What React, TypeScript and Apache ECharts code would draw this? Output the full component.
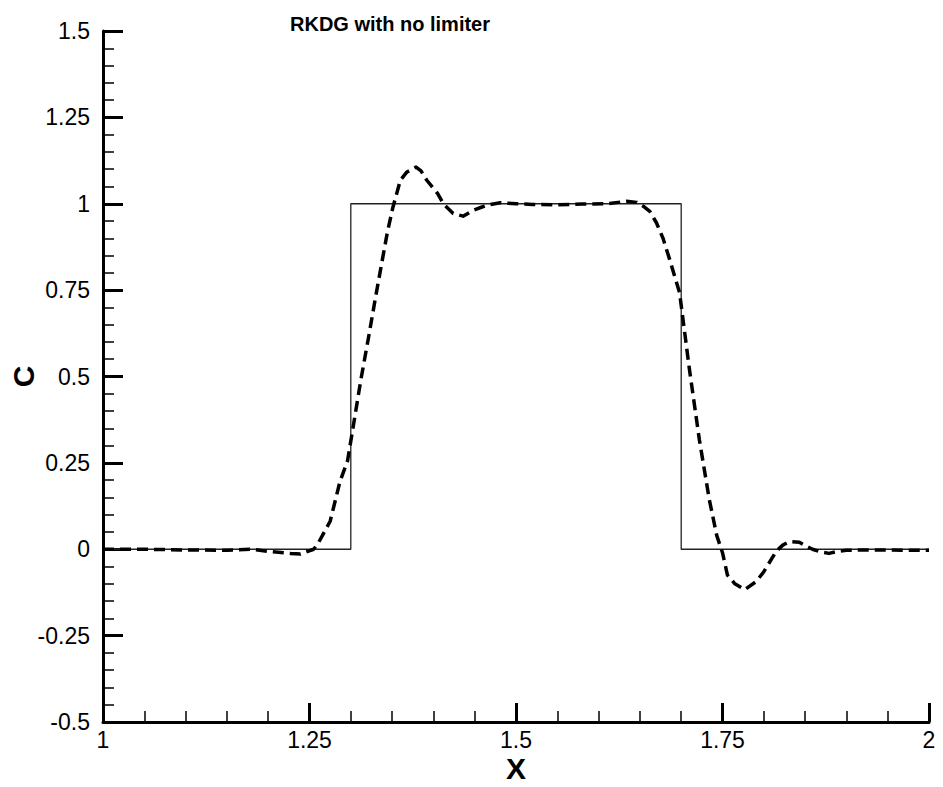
import React, { useEffect, useRef } from "react";
import * as echarts from "echarts";

const exactX = [1.0, 1.3, 1.3, 1.7, 1.7, 2.0];
const exactY = [0, 0, 1, 1, 0, 0];

const numX = [
  1.0, 1.05, 1.1, 1.15, 1.18, 1.2, 1.227, 1.239, 1.255, 1.26, 1.275, 1.287,
  1.296, 1.306, 1.312, 1.322, 1.33, 1.344, 1.351, 1.36, 1.368, 1.376, 1.379,
  1.385, 1.392, 1.405, 1.412, 1.424, 1.436, 1.448, 1.465, 1.481, 1.5, 1.52,
  1.55, 1.58, 1.61, 1.634, 1.646, 1.654, 1.662, 1.67, 1.678, 1.686, 1.698,
  1.71, 1.722, 1.734, 1.743, 1.75, 1.756, 1.765, 1.777, 1.791, 1.8, 1.815,
  1.823, 1.831, 1.843, 1.852, 1.859, 1.869, 1.879, 1.89, 1.9, 1.92, 1.95,
  1.975, 2.0,
];
const numY = [
  0.0, 0.0, -0.002, -0.003, 0.0, -0.006, -0.012, -0.014, 0.0, 0.015, 0.081,
  0.197, 0.255, 0.4, 0.488, 0.62, 0.73, 0.914, 0.99, 1.068, 1.092, 1.102,
  1.106, 1.095, 1.068, 1.03, 1.0, 0.972, 0.964, 0.981, 0.996, 1.003, 1.0,
  0.998, 0.997, 0.999, 1.0, 1.007, 1.004, 0.993, 0.978, 0.945, 0.9, 0.839,
  0.743, 0.52, 0.317, 0.144, 0.04, -0.01, -0.075, -0.1, -0.117, -0.093,
  -0.065, -0.006, 0.012, 0.022, 0.02, 0.008, 0.0, -0.008, -0.012, -0.006,
  -0.003, -0.002, -0.002, -0.003, -0.003,
];

const xTicks = [1, 1.25, 1.5, 1.75, 2];
const yTicks = [-0.5, -0.25, 0, 0.25, 0.5, 0.75, 1, 1.25, 1.5];

const FONT = "'Liberation Sans', Arial, Helvetica, sans-serif";
const NARROW = "'Liberation Sans Narrow', 'Liberation Sans', Arial, sans-serif";

export default function App() {
  const ref = useRef<HTMLDivElement>(null);
  useEffect(() => {
    if (!ref.current) return;
    const chart = echarts.init(ref.current, undefined, { renderer: "svg" });
    const fmt = (v: number) => String(Math.round(v * 100) / 100);
    chart.setOption({
      animation: false,
      backgroundColor: "#ffffff",
      title: {
        text: "RKDG with no limiter",
        left: 385,
        top: 9,
        textAlign: "center",
        textStyle: { fontFamily: FONT, fontSize: 20, fontWeight: "bold", color: "#000" },
      },
      grid: {
        left: 103,
        right: 14,
        top: 31,
        bottom: 65,
        containLabel: false,
        outerBoundsMode: "none",
      },
      xAxis: {
        type: "value",
        min: xTicks[0],
        max: xTicks[xTicks.length - 1],
        interval: 0.25,
        name: "X",
        nameLocation: "middle",
        nameGap: 31,
        nameMoveOverlap: false,
        nameTextStyle: {
          fontFamily: NARROW,
          fontSize: 30,
          lineHeight: 30,
          fontWeight: "bold",
          color: "#000",
        },
        axisLine: { show: true, onZero: false, lineStyle: { color: "#000", width: 3 } },
        axisTick: { show: true, inside: true, length: 19, lineStyle: { color: "#000", width: 3 } },
        minorTick: { show: true, splitNumber: 5, length: 11, lineStyle: { color: "#000", width: 1.5 } },
        splitLine: { show: false },
        axisLabel: {
          fontFamily: FONT,
          fontSize: 23,
          color: "#000",
          margin: 6,
          formatter: fmt,
        },
      },
      yAxis: {
        type: "value",
        min: yTicks[0],
        max: yTicks[yTicks.length - 1],
        interval: 0.25,
        name: "C",
        nameLocation: "middle",
        nameGap: 65,
        nameMoveOverlap: false,
        nameRotate: 90,
        nameTextStyle: {
          fontFamily: FONT,
          fontSize: 30,
          lineHeight: 30,
          fontWeight: "bold",
          color: "#000",
        },
        axisLine: { show: true, onZero: false, lineStyle: { color: "#000", width: 3 } },
        axisTick: { show: true, inside: true, length: 20, lineStyle: { color: "#000", width: 3 } },
        minorTick: { show: true, splitNumber: 5, length: 11, lineStyle: { color: "#000", width: 1.5 } },
        splitLine: { show: false },
        axisLabel: {
          fontFamily: FONT,
          fontSize: 23,
          color: "#000",
          margin: 13,
          formatter: fmt,
        },
      },
      series: [
        {
          name: "exact",
          type: "line",
          data: exactX.map((x, i) => [x, exactY[i]]),
          symbol: "none",
          lineStyle: { color: "#222", width: 1.3 },
          z: 2,
        },
        {
          name: "RKDG",
          type: "line",
          data: numX.map((x, i) => [x, numY[i]]),
          symbol: "none",
          smooth: false,
          lineStyle: { color: "#000", width: 3.5, type: [11, 6], join: "round" },
          z: 3,
        },
      ],
    });
    return () => chart.dispose();
  }, []);
  return <div ref={ref} style={{ width: 943, height: 787, position: "absolute", left: 0, top: 0 }} />;
}
